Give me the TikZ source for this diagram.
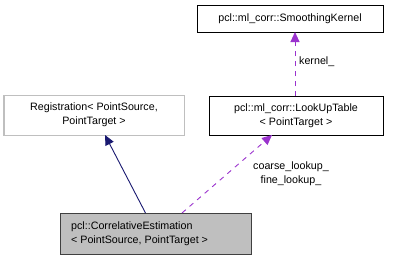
\documentclass[tikz,border=0pt]{standalone}
\usepackage{fontspec}
\setmainfont{Liberation Sans}
\usetikzlibrary{arrows.meta}
\definecolor{edgeblue}{HTML}{191970}
\definecolor{edgepurple}{HTML}{9A32CD}
\definecolor{boxgray}{HTML}{BFBFBF}
\definecolor{boxdark}{HTML}{404040}
\begin{document}
\begin{tikzpicture}[x=1pt,y=-1pt,
  font=\fontsize{10.7}{15}\selectfont,
  cls/.style={draw=black, fill=white, line width=1pt, inner sep=0pt, align=center},
  base/.style={draw=boxgray, fill=white, line width=1pt, inner sep=0pt, align=center},
  focus/.style={draw=boxdark, fill=boxgray, line width=1pt, inner sep=0pt},
  inherit/.style={draw=edgeblue, line width=0.9pt, -{Triangle[length=10pt,width=9pt,fill=edgeblue]}},
  usage/.style={draw=edgepurple, line width=0.9pt, dash pattern=on 5pt off 5pt, -{Triangle[length=10pt,width=9pt,fill=edgepurple]}},
  lbl/.style={inner sep=0pt, align=center}]
\useasboundingbox (0,0) rectangle (400,260);

% class boxes
\node[cls, minimum width=186pt, minimum height=27pt] (kern) at (290,18.5) {pcl::ml\_corr::SmoothingKernel};
\node[cls, minimum width=174pt, minimum height=39pt] (lut) at (296,115.5) {pcl::ml\_corr::LookUpTable\\[-1pt]< PointTarget >};
\node[base, minimum width=180pt, minimum height=40pt] (reg) at (94,115) {Registration< PointSource,\\[-1pt]PointTarget >};
\node[focus, minimum width=191pt, minimum height=41pt] (ce) at (155.5,233.5) {};
\node[lbl, anchor=west, align=left] (cetext) at (71,233.5) {pcl::CorrelativeEstimation\\[-1pt]< PointSource, PointTarget >};

% connectors
\coordinate (regfrom) at (145.5,213);
\coordinate (regto) at (105,135);
\draw[inherit] (regfrom) -- (regto);
\coordinate (lutfrom) at (182,213);
\coordinate (lutto) at (272,135);
\draw[usage] (lutfrom) -- (lutto);
\coordinate (kernfrom) at (295,96);
\coordinate (kernto) at (295,32);
\draw[usage] (kernfrom) -- (kernto);

% edge labels
\node[lbl, anchor=west] (klbl) at (299,62) {kernel\_};
\node[lbl] (lutlbl) at (291,174) {coarse\_lookup\_\\[-1pt]fine\_lookup\_};
\end{tikzpicture}
\end{document}
